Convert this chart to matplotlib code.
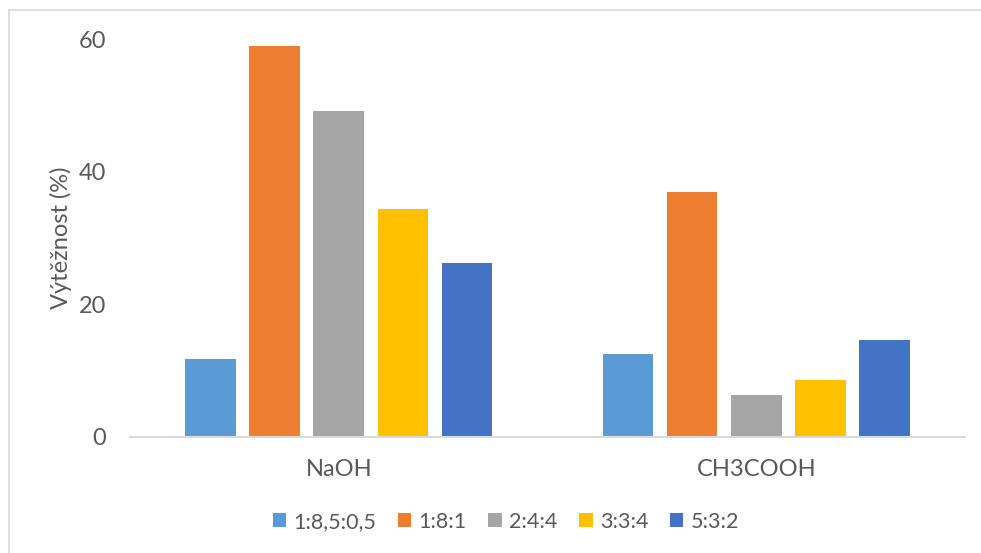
import numpy as np
import matplotlib
matplotlib.use("Agg")
import matplotlib.pyplot as plt
from matplotlib.patches import Rectangle

# ── Data ──────────────────────────────────────────────────────────────────────
CATEGORIES = ["NaOH", "CH3COOH"]
RATIOS     = ["1:8,5:0,5", "1:8:1", "2:4:4", "3:3:4", "5:3:2"]
YIELD_NAOH = [11.7, 58.9, 49.2, 34.4, 26.2]
YIELD_AC   = [12.5, 36.9, 6.25, 8.6, 14.55]
Y_TICKS    = [0, 20, 40, 60]

COLORS = ["#5B9BD5", "#ED7D31", "#A5A5A5", "#FFC000", "#4472C4"]
TEXT_C = "#595959"
LINE_C = "#D9D9D9"
FS = 17

plt.rcParams.update({
    "font.family": ["Lato", "DejaVu Sans"],
    "font.size": FS,
})

W, H = 981, 553
fig = plt.figure(figsize=(W / 100, H / 100), dpi=100)
ax = fig.add_axes([130 / W, (H - 436.7) / H, (965 - 130) / W, (436.7 - 39.2) / H])

# chart-area frame (only top and left edges are inside the image)
fig.patches.append(Rectangle((9.3 / W, -0.5), 2.0, 1.5 - 9.8 / H,
                             transform=fig.transFigure, fill=False,
                             edgecolor=LINE_C, linewidth=1.2, zorder=0))

values = np.array([YIELD_NAOH, YIELD_AC])  # shape (category, ratio)
x = np.arange(len(CATEGORIES))
pitch = 0.1538
width = 0.1212
for i, (label, color) in enumerate(zip(RATIOS, COLORS)):
    ax.bar(x + (i - 2) * pitch, values[:, i], width=width, color=color,
           label=label, zorder=2)

ax.set_xlim(-0.5, 1.5)
ax.set_ylim(0, 60)
ax.set_yticks(Y_TICKS)
ax.set_xticks(x)
ax.set_xticklabels(CATEGORIES)
ax.tick_params(axis="both", length=0, colors=TEXT_C, labelsize=FS)
ax.tick_params(axis="y", pad=17)
ax.tick_params(axis="x", pad=16)

for side in ["top", "right", "left"]:
    ax.spines[side].set_visible(False)
ax.spines["bottom"].set_color(LINE_C)
ax.spines["bottom"].set_linewidth(1.5)

ax.set_ylabel("Výtěžnost (%)", color=TEXT_C, fontsize=FS)
ax.yaxis.set_label_coords(-0.069, 0.5)

leg = fig.legend(loc="center", bbox_to_anchor=(506 / W, 1 - 521.7 / H), ncol=5,
                 frameon=False, handlelength=0.62, handleheight=0.62,
                 handletextpad=0.35, columnspacing=1.0, fontsize=15.5)
for t in leg.get_texts():
    t.set_color(TEXT_C)

fig.savefig("out.png", dpi=100)
